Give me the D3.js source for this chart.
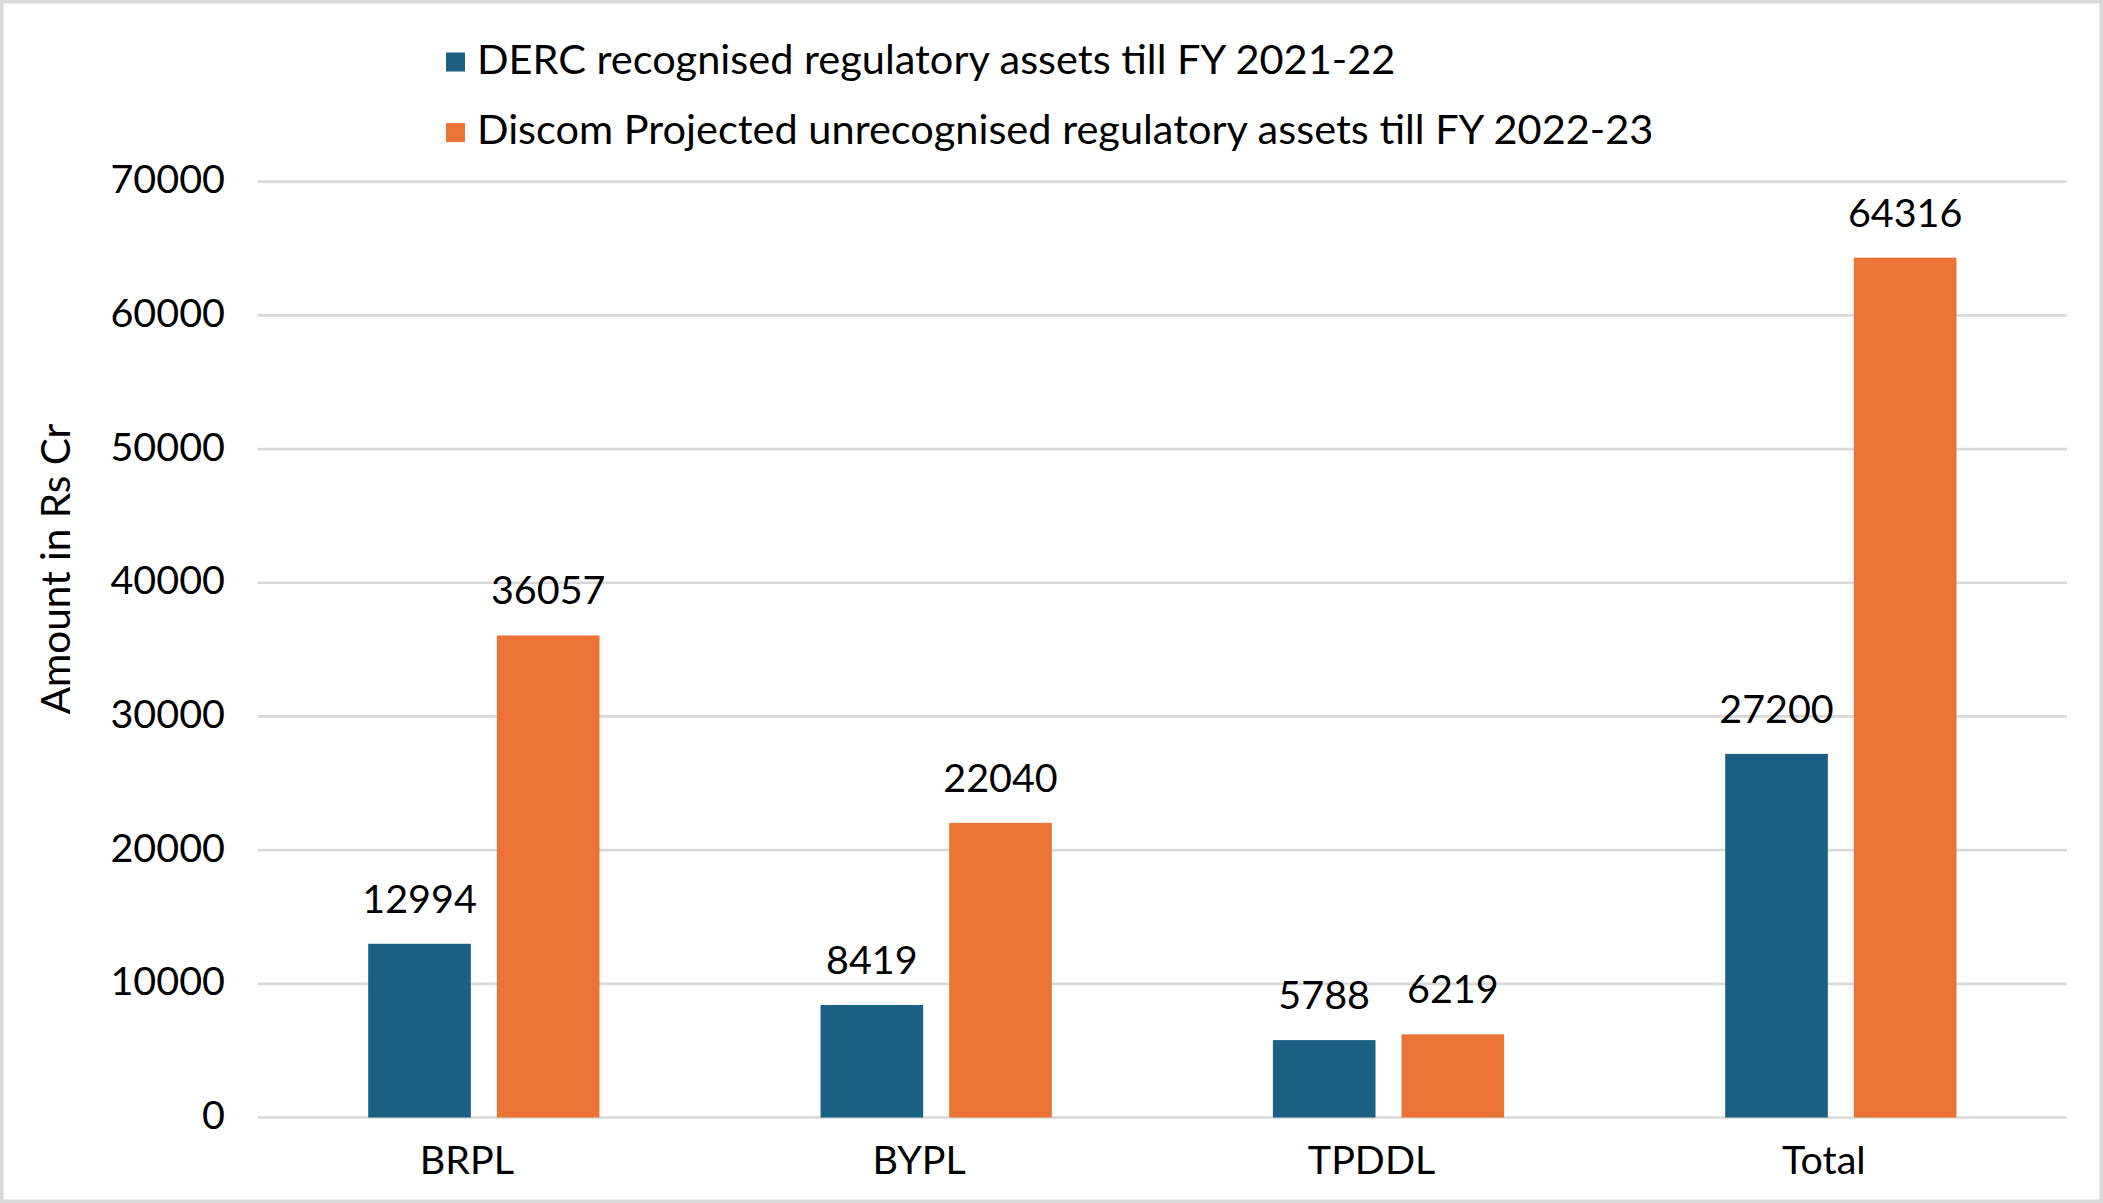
<!DOCTYPE html>
<html>
<head>
<meta charset="utf-8">
<script src="https://cdn.jsdelivr.net/npm/d3@7"></script>
<style>
  body { margin: 0; background: #fff; }
  text { font-family: Lato, "Noto Sans", sans-serif; fill: #000; }
</style>
</head>
<body>
<div id="chart"></div>
<script>
// chart data
var categories = ["BRPL", "BYPL", "TPDDL", "Total"];
var seriesNames = ["DERC recognised regulatory assets till FY 2021-22",
                   "Discom Projected unrecognised regulatory assets till FY 2022-23"];
var dercValues = [12994, 8419, 5788, 27200];
var discomValues = [36057, 22040, 6219, 64316];
var yTicks = [0, 10000, 20000, 30000, 40000, 50000, 60000, 70000];
var colors = ["#1B6082", "#EB7335"];

var W = 2103, H = 1203;
var margin = {top: 181.7, right: 36, bottom: 85.5, left: 257.7};
var width = W - margin.left - margin.right,
    height = H - margin.top - margin.bottom;

var svg = d3.select("#chart")
  .append("svg")
  .attr("width", W)
  .attr("height", H);

// outer border
svg.append("rect")
  .attr("x", 1.75).attr("y", 1.75)
  .attr("width", W - 3.5).attr("height", H - 3.5)
  .attr("fill", "none")
  .attr("stroke", "#d9d9d9")
  .attr("stroke-width", 3.5);

var g = svg.append("g")
  .attr("transform", "translate(" + margin.left + "," + margin.top + ")");

var x0 = d3.scaleBand()
  .domain(categories)
  .range([0, width])
  .padding(0);

var x1 = d3.scaleBand()
  .domain([0, 1])
  .range([0, x0.bandwidth()])
  .paddingInner(0.2023)
  .paddingOuter(0.859);

var y = d3.scaleLinear()
  .domain([0, 70000])
  .range([height, 0]);

// gridlines
g.append("g")
  .selectAll("line")
  .data(yTicks)
  .enter()
  .append("line")
  .attr("x1", 0)
  .attr("x2", width)
  .attr("y1", function(d) { return y(d); })
  .attr("y2", function(d) { return y(d); })
  .attr("stroke", "#d9d9d9")
  .attr("stroke-width", 2.7);

// y axis labels
var yAxis = g.append("g")
  .call(d3.axisLeft(y).tickValues(yTicks).tickSize(0).tickPadding(32.7).tickFormat(d3.format("d")));
yAxis.select(".domain").remove();
yAxis.selectAll("text")
  .attr("dy", "0.28em")
  .style("font-size", "39.5px")
  .style("font-family", "Lato, 'Noto Sans', sans-serif")
  .attr("fill", "#000");

// bars
var rows = categories.map(function(c, i) {
  return {cat: c, vals: [dercValues[i], discomValues[i]]};
});

var groups = g.selectAll(".grp")
  .data(rows)
  .enter()
  .append("g")
  .attr("class", "grp")
  .attr("transform", function(d) { return "translate(" + x0(d.cat) + ",0)"; });

groups.selectAll("rect")
  .data(function(d) { return d.vals; })
  .enter()
  .append("rect")
  .attr("x", function(d, i) { return x1(i); })
  .attr("y", function(d) { return y(d); })
  .attr("width", x1.bandwidth())
  .attr("height", function(d) { return height - y(d); })
  .attr("fill", function(d, i) { return colors[i]; });

// data labels
groups.selectAll(".lbl")
  .data(function(d) { return d.vals; })
  .enter()
  .append("text")
  .attr("class", "lbl")
  .attr("x", function(d, i) { return x1(i) + x1.bandwidth() / 2; })
  .attr("y", function(d) { return y(d) - 31; })
  .attr("text-anchor", "middle")
  .style("font-size", "39.5px")
  .text(function(d) { return d; });

// x axis labels
var xAxis = g.append("g")
  .attr("transform", "translate(0," + height + ")")
  .call(d3.axisBottom(x0).tickSize(0).tickPadding(0));
xAxis.select(".domain").remove();
xAxis.selectAll("text")
  .attr("dy", null)
  .attr("y", 56.5)
  .attr("dx", -17)
  .style("font-size", "39.5px")
  .style("font-family", "Lato, 'Noto Sans', sans-serif")
  .attr("fill", "#000");

// y axis title
svg.append("text")
  .attr("transform", "translate(70,569) rotate(-90)")
  .attr("text-anchor", "middle")
  .style("font-size", "40.5px")
  .text("Amount in Rs Cr");

// legend
var legend = svg.selectAll(".legend")
  .data(seriesNames)
  .enter()
  .append("g")
  .attr("class", "legend")
  .attr("transform", function(d, i) { return "translate(446," + (73.5 + i * 70.6) + ")"; });

legend.append("rect")
  .attr("x", 0)
  .attr("y", -21)
  .attr("width", 19)
  .attr("height", 19)
  .attr("fill", function(d, i) { return colors[i]; });

legend.append("text")
  .attr("x", 31)
  .attr("y", 0)
  .style("font-size", "41.5px")
  .text(function(d) { return d; });
</script>
</body>
</html>
